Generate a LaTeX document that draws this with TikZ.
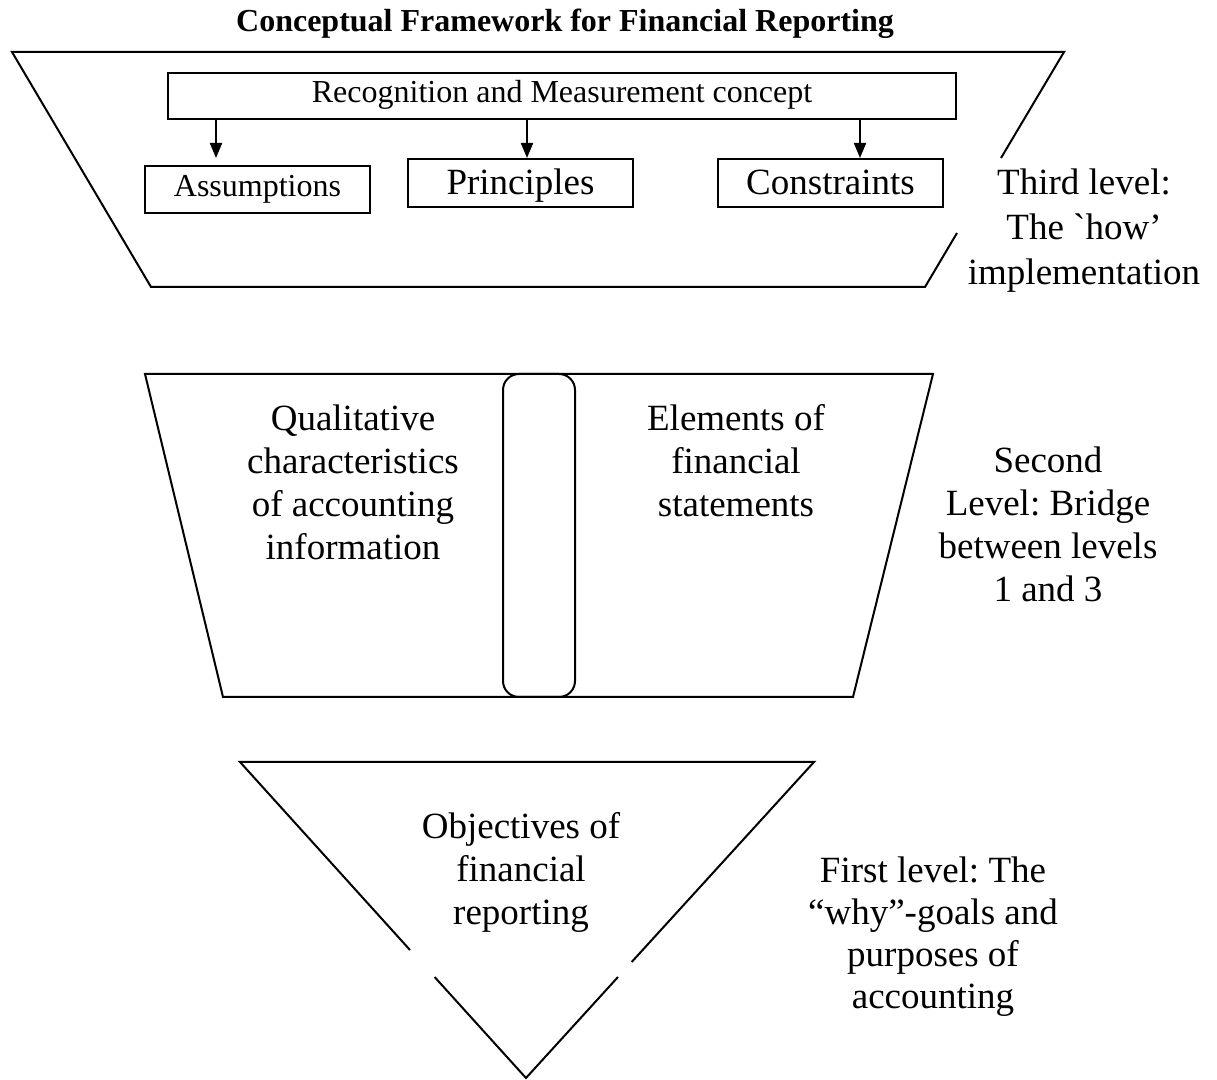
\documentclass[tikz,border=0pt]{standalone}
\usepackage{fontspec}
\setmainfont{Liberation Serif}
\usetikzlibrary{arrows.meta}
\frenchspacing
\begin{document}
\begin{tikzpicture}[x=0.5pt,y=-0.5pt,
  shapeline/.style={line width=1pt, line join=miter},
  box/.style={draw, line width=1pt, inner sep=0pt},
  smallfont/.style={font=\fontsize{16}{19}\selectfont},
  bigfont/.style={font=\fontsize{18.5}{21.5}\selectfont},
  txt/.style={align=center, inner sep=0pt, anchor=north},
  arr/.style={line width=1pt, -{Triangle[length=7.5pt,width=6pt]}}]
\useasboundingbox (0,0) rectangle (1217,1080);

% title
\node[font=\bfseries\fontsize{16}{18}\selectfont, anchor=base, inner sep=0pt] (title) at (565,32) {Conceptual Framework for Financial Reporting};

% third level trapezoid (right side broken)
\draw[shapeline] (1001,158) -- (1064,52) -- (12,52) -- (151,287) -- (925,287) -- (957,233);

\node[box, smallfont, minimum width=394pt, minimum height=23pt, text height=11pt, text depth=4.5pt] (rec) at (562,96) {Recognition and Measurement concept};
\node[box, smallfont, minimum width=112.5pt, minimum height=23.5pt, text height=11pt, text depth=3.5pt] (assump) at (257.5,189.5) {Assumptions};
\node[box, bigfont, minimum width=112.5pt, minimum height=24pt, text height=13pt, text depth=1pt] (prin) at (520.5,183) {Principles};
\node[box, bigfont, minimum width=112.5pt, minimum height=24pt, text height=13pt, text depth=1pt] (cons) at (830.5,183) {Constraints};

\coordinate (a1) at (216,0);
\coordinate (a2) at (527,0);
\coordinate (a3) at (860,0);
\draw[arr, shorten >=3.5pt] (rec.south -| a1) -- (assump.north -| a1);
\draw[arr] (rec.south -| a2) -- (prin.north -| a2);
\draw[arr] (rec.south -| a3) -- (cons.north -| a3);

\node[txt, font=\fontsize{18.5}{22.5}\selectfont] (third) at (1084,162.5)
  {\strut Third level:\\ \strut The \textasciigrave how’\\ \strut implementation};

% second level trapezoid
\draw[shapeline] (145,374) -- (933,374) -- (853,697) -- (223,697) -- cycle;
\node[draw, line width=1pt, rounded corners=8pt, minimum width=36pt, minimum height=161.5pt, inner sep=0pt] (bridge) at (539,535.5) {};

\node[txt, bigfont] (qual) at (353,400)
  {\strut Qualitative\\ \strut characteristics\\ \strut of accounting\\ \strut information};
\node[txt, bigfont] (elem) at (736,400)
  {\strut Elements of\\ \strut financial\\ \strut statements};
\node[txt, bigfont] (second) at (1048,442)
  {\strut Second\\ \strut Level: Bridge\\ \strut between levels\\ \strut 1 and 3};

% first level triangle (sides broken)
\draw[shapeline] (410,950) -- (240,762) -- (814,762) -- (631.7,962);
\draw[shapeline] (434.6,977) -- (526,1078) -- (618,977);

\node[txt, bigfont] (obj) at (521,808)
  {\strut Objectives of\\ \strut financial\\ \strut reporting};
\node[txt, font=\fontsize{18.5}{21}\selectfont] (first) at (933,852.5)
  {\strut First level: The\\ \strut “why”-goals and\\ \strut purposes of\\ \strut accounting};
\end{tikzpicture}
\end{document}
